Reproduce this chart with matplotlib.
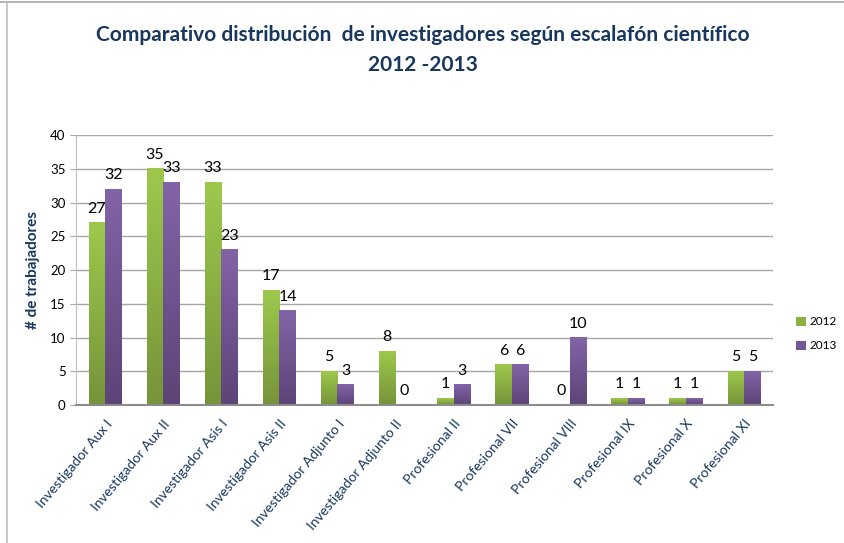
import numpy as np
import matplotlib
matplotlib.use('Agg')
import matplotlib.pyplot as plt
from matplotlib.colors import LinearSegmentedColormap
from matplotlib.lines import Line2D
from matplotlib.patches import Patch

# datos
categorias = ['Investigador Aux I', 'Investigador Aux II', 'Investigador Asis I',
              'Investigador Asis II', 'Investigador Adjunto I', 'Investigador Adjunto II',
              'Profesional II', 'Profesional VII', 'Profesional VIII', 'Profesional IX',
              'Profesional X', 'Profesional XI']
valores_2012 = [27, 35, 33, 17, 5, 8, 1, 6, 0, 1, 1, 5]
valores_2013 = [32, 33, 23, 14, 3, 0, 3, 6, 10, 1, 1, 5]
y_ticks = [0, 5, 10, 15, 20, 25, 30, 35, 40]

plt.rcParams['font.family'] = ['Lato', 'DejaVu Sans']
azul = '#17375E'

fig = plt.figure(figsize=(8.45, 5.43), dpi=100)
ax = fig.add_axes([0.090, 0.254, 0.825, 0.497])

x = np.arange(len(categorias))
w = 0.285
b1 = ax.bar(x - w / 2, valores_2012, w, color='none', label='2012')
b2 = ax.bar(x + w / 2, valores_2013, w, color='none', label='2013')

# degradado en las barras
cm_verde = LinearSegmentedColormap.from_list('v', ['#76943A', '#9DC84C'])
cm_morado = LinearSegmentedColormap.from_list('m', ['#5C4478', '#8264A6'])
grad = np.linspace(0, 1, 64).reshape(-1, 1)
for barras, cmap in ((b1, cm_verde), (b2, cm_morado)):
    for r in barras:
        h = r.get_height()
        if h <= 0:
            continue
        x0 = r.get_x()
        ax.imshow(grad, cmap=cmap, origin='lower', aspect='auto',
                  extent=(x0, x0 + r.get_width(), 0, h), zorder=2)

ax.set_xlim(-0.5, len(categorias) - 0.5)
ax.set_ylim(0, 40)

# etiquetas de datos
for barras, vals in ((b1, valores_2012), (b2, valores_2013)):
    for r, v in zip(barras, vals):
        ax.annotate(str(v), (r.get_x() + r.get_width() / 2, r.get_height()),
                    xytext=(0, 5), textcoords='offset points',
                    ha='center', va='bottom', fontsize=11.5, color='black', zorder=4)

ax.set_yticks(y_ticks)
ax.yaxis.grid(True, color='#A6A6A6', linewidth=1)
ax.set_axisbelow(True)
for s in ['top', 'right']:
    ax.spines[s].set_visible(False)
ax.spines['left'].set_color('#BFBFBF')
ax.spines['bottom'].set_color('#8C8C8C')
ax.spines['bottom'].set_linewidth(1.5)
ax.tick_params(axis='y', labelsize=9.5, length=4, color='#A6A6A6')
ax.tick_params(axis='x', length=0, pad=9)

ax.set_xticks(x)
ax.set_xticklabels(categorias, rotation=50, ha='right', rotation_mode='anchor',
                   fontsize=10, color=azul)

ax.set_ylabel('# de trabajadores', fontsize=11, fontweight='bold', color=azul, labelpad=7)

fig.text(0.5, 0.935, 'Comparativo distribución  de investigadores según escalafón científico',
         ha='center', va='center', fontsize=15, fontweight='bold', color=azul)
fig.text(0.5, 0.88, '2012 -2013', ha='center', va='center', fontsize=15,
         fontweight='bold', color=azul)

handles = [Patch(facecolor='#8BB043'), Patch(facecolor='#72569A')]
fig.legend(handles, ['2012', '2013'], loc='center left', bbox_to_anchor=(0.93, 0.385),
           frameon=False, fontsize=8.5, handlelength=0.8, handleheight=0.8,
           handletextpad=0.3, labelspacing=1.1)

# marco de la figura
fig.add_artist(Line2D([0, 1], [0.996, 0.996], color='#A6A6A6', linewidth=1.2))
fig.add_artist(Line2D([0.008, 0.008], [0, 0.996], color='#BFBFBF', linewidth=1.2))

fig.savefig('out.png', dpi=100)
